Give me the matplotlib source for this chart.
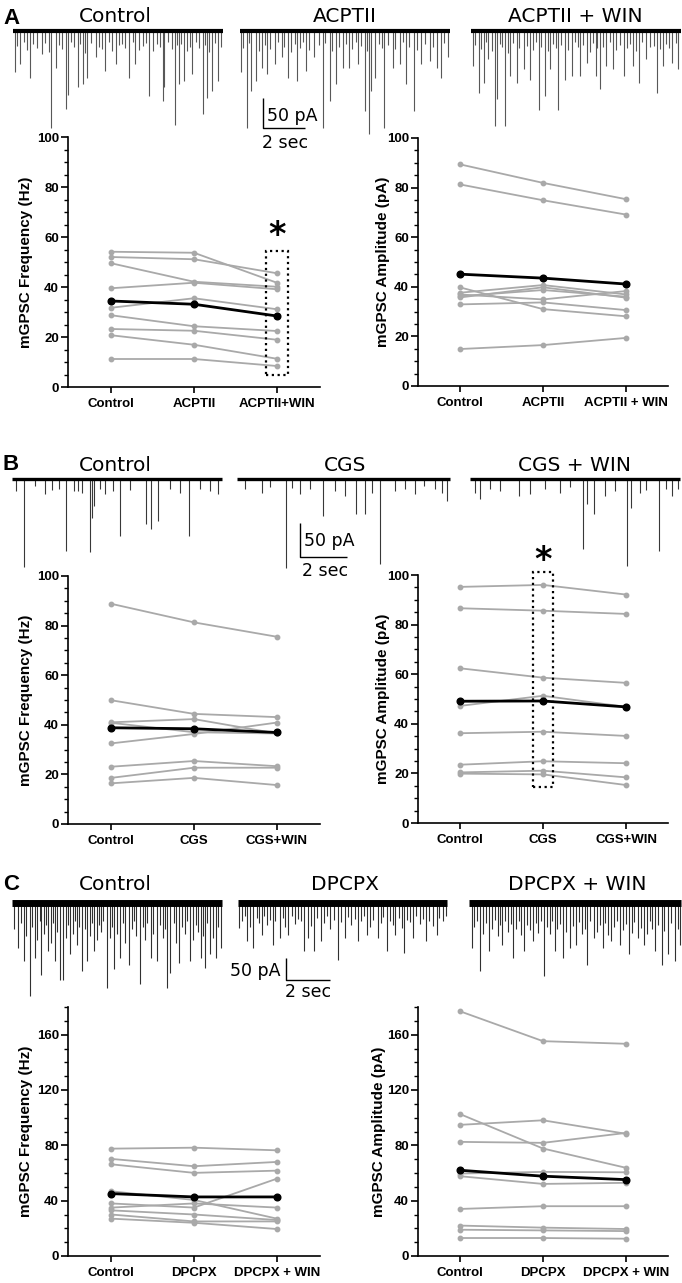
import matplotlib
matplotlib.use("Agg")
import matplotlib.pyplot as plt
from matplotlib.ticker import MultipleLocator
from matplotlib.patches import Rectangle

plt.rcParams['font.family'] = ['Liberation Sans', 'DejaVu Sans']

# ----------------------------- DATA -----------------------------
# Panel A: ACPTII
a_labels_freq = ['Control', 'ACPTII', 'ACPTII+WIN']
a_labels_amp = ['Control', 'ACPTII', 'ACPTII + WIN']
a_freq_ctrl = [54.1, 52.0, 49.5, 39.5, 31.7, 28.7, 23.2, 20.7, 11.2]
a_freq_drug = [53.7, 51.1, 42.1, 41.7, 35.5, 24.3, 22.5, 16.9, 11.2]
a_freq_win = [41.7, 45.5, 40.1, 39.1, 31.1, 22.4, 18.9, 11.3, 8.4]
a_freq_mean = [34.4, 33.1, 28.4]
a_amp_ctrl = [89.4, 81.3, 39.8, 37.6, 36.9, 35.7, 36.2, 32.9, 14.9]
a_amp_drug = [81.9, 74.9, 31.0, 40.7, 34.9, 39.8, 38.7, 33.7, 16.5]
a_amp_win = [75.3, 69.1, 28.1, 36.9, 38.3, 35.6, 36.0, 30.6, 19.4]
a_amp_mean = [45.1, 43.5, 41.1]

# Panel B: CGS
b_labels_freq = ['Control', 'CGS', 'CGS+WIN']
b_labels_amp = ['Control', 'CGS', 'CGS+WIN']
b_freq_ctrl = [88.8, 49.9, 41.0, 40.8, 32.5, 23.1, 18.6, 16.4]
b_freq_drug = [81.3, 44.4, 42.3, 37.0, 36.3, 25.4, 22.7, 18.6]
b_freq_win = [75.5, 43.1, 36.5, 36.5, 40.9, 23.3, 22.7, 15.7]
b_freq_mean = [38.8, 38.4, 36.9]
b_amp_ctrl = [95.2, 86.6, 62.4, 47.2, 36.2, 23.5, 20.4, 19.9]
b_amp_drug = [96.0, 85.6, 58.6, 51.3, 36.8, 24.9, 21.1, 19.6]
b_amp_win = [92.1, 84.3, 56.5, 46.8, 35.1, 24.1, 18.4, 15.3]
b_amp_mean = [49.1, 49.2, 46.8]

# Panel C: DPCPX
c_labels_freq = ['Control', 'DPCPX', 'DPCPX + WIN']
c_labels_amp = ['Control', 'DPCPX', 'DPCPX + WIN']
c_freq_ctrl = [77.6, 70.2, 66.3, 46.8, 38.0, 35.0, 33.0, 30.0, 27.0]
c_freq_drug = [78.3, 64.9, 60.1, 40.5, 35.0, 38.0, 30.0, 25.0, 24.0]
c_freq_win = [76.4, 68.0, 61.7, 27.0, 55.9, 35.0, 26.0, 25.0, 19.5]
c_freq_mean = [45.1, 42.7, 42.7]
c_amp_ctrl = [177.0, 102.7, 94.8, 82.5, 59.6, 57.7, 34.0, 22.0, 19.0, 13.0]
c_amp_drug = [155.3, 77.7, 98.1, 81.8, 60.8, 52.1, 36.0, 20.5, 18.5, 13.0]
c_amp_win = [153.4, 63.7, 88.3, 89.0, 60.5, 52.9, 36.0, 19.5, 18.0, 12.5]
c_amp_mean = [62.0, 57.7, 55.2]

# Example traces: event times (s) and amplitudes (pA)
a_ctrl_t = [0.11, 0.32, 0.79, 1.36, 1.83, 2.04, 2.50, 2.60, 3.08, 3.33, 3.54, 3.95, 4.37, 4.89, 5.52, 5.83, 6.49, 7.12, 7.20, 7.70, 7.91, 8.16, 8.53, 9.05, 9.26, 9.47, 9.78,
            0.2, 0.5, 0.65, 0.95, 1.15, 1.5, 1.7, 2.2, 2.35, 2.75, 2.9, 3.2, 3.45, 3.7, 4.1, 4.25, 4.55, 4.7, 5.05, 5.2, 5.35, 5.7, 6.0, 6.2, 6.35, 6.65, 6.85, 7.0, 7.4, 7.55, 7.8, 8.0, 8.3, 8.45, 8.7, 8.85, 9.15, 9.35, 9.6, 9.9]
a_ctrl_amp = [69, 55, 78, 38, 161, 61, 130, 106, 94, 89, 78, 44, 67, 55, 78, 55, 108, 117, 94, 156, 89, 83, 72, 139, 111, 100, 83,
              25, 18, 32, 22, 28, 20, 35, 24, 30, 18, 27, 22, 36, 20, 26, 30, 19, 33, 24, 21, 28, 18, 31, 25, 20, 34, 22, 27, 19, 30, 24, 21, 33, 26, 18, 29, 23, 35, 20, 26]
a_drug_t = [0.05, 0.32, 0.53, 0.74, 1.05, 1.30, 1.67, 1.98, 2.30, 2.71, 3.13, 3.54, 3.96, 4.27, 4.58, 4.90, 5.21, 5.62, 5.93, 6.14, 6.25, 6.45, 6.87, 7.29, 7.60, 7.91, 8.29, 8.64, 9.05, 9.37, 9.57, 9.89,
            0.15, 0.42, 0.9, 1.18, 1.45, 1.8, 2.1, 2.45, 2.6, 2.85, 3.0, 3.3, 3.75, 4.05, 4.4, 4.7, 5.05, 5.35, 5.5, 5.75, 6.05, 6.6, 6.75, 7.05, 7.4, 7.75, 8.05, 8.45, 8.8, 9.2, 9.7]
a_drug_amp = [69, 161, 100, 83, 61, 72, 55, 44, 78, 83, 67, 44, 161, 117, 89, 61, 61, 55, 133, 172, 100, 78, 161, 61, 55, 89, 133, 55, 50, 61, 78, 44,
              28, 20, 33, 24, 30, 19, 26, 35, 22, 28, 18, 31, 24, 20, 34, 27, 22, 30, 19, 25, 33, 21, 28, 24, 30, 18, 26, 32, 22, 27, 20]
a_win_t = [0.10, 0.38, 0.62, 0.83, 1.14, 1.25, 1.62, 1.87, 2.18, 2.50, 2.81, 3.22, 3.54, 3.74, 4.16, 4.47, 4.79, 5.20, 5.51, 5.93, 6.13, 6.45, 6.76, 7.28, 7.70, 8.01, 8.32, 8.84, 9.15, 9.57, 9.88,
           0.2, 0.5, 0.72, 1.0, 1.38, 1.5, 1.75, 2.0, 2.3, 2.65, 2.95, 3.1, 3.35, 3.65, 3.9, 4.05, 4.3, 4.6, 4.95, 5.08, 5.35, 5.65, 5.8, 6.02, 6.3, 6.6, 6.9, 7.1, 7.45, 7.55, 7.85, 8.15, 8.5, 8.7, 9.0, 9.3, 9.45, 9.75]
a_win_amp = [58, 103, 86, 47, 158, 114, 158, 75, 86, 64, 81, 131, 108, 64, 131, 81, 75, 75, 53, 75, 97, 58, 64, 75, 58, 86, 47, 103, 58, 53, 64,
             24, 30, 19, 33, 22, 27, 36, 20, 28, 25, 31, 18, 26, 34, 21, 29, 24, 32, 19, 27, 23, 35, 20, 28, 26, 18, 31, 24, 29, 21, 33, 19, 27, 25, 30, 22, 28, 20]

b_ctrl_t = [0.17, 0.51, 0.98, 1.40, 1.70, 2.00, 2.28, 2.64, 2.81, 2.98, 3.30, 3.39, 3.49, 3.74, 3.96, 4.29, 4.60, 5.02, 5.70, 5.90, 6.21, 6.72, 7.15, 7.53, 8.00, 8.43, 8.77]
b_ctrl_amp = [18, 129, 10, 22, 16, 14, 106, 18, 18, 20, 107, 57, 40, 15, 22, 18, 84, 16, 66, 74, 62, 15, 20, 84, 14, 18, 22]
b_drug_t = [0.34, 1.06, 1.40, 2.09, 2.33, 2.68, 3.11, 3.66, 4.17, 4.60, 5.06, 5.43, 5.74, 6.09, 6.72, 7.15, 7.57, 7.94, 8.43, 8.72, 8.95]
b_drug_amp = [15, 20, 12, 131, 13, 22, 15, 54, 18, 25, 52, 52, 20, 125, 18, 15, 22, 10, 15, 20, 32]
b_win_t = [0.21, 0.44, 0.85, 1.28, 2.08, 2.55, 3.19, 3.83, 4.26, 4.81, 4.99, 5.28, 5.74, 6.17, 6.68, 6.85, 7.23, 7.50, 8.06, 8.34, 8.60, 8.85]
b_win_amp = [20, 30, 15, 18, 25, 22, 15, 20, 12, 103, 37, 52, 25, 18, 128, 42, 20, 16, 106, 15, 25, 15]

c_ctrl_t = [0.25, 0.55, 0.80, 1.04, 1.34, 1.64, 1.94, 2.19, 2.33, 2.63, 3.17, 3.42, 3.72, 4.32, 4.65, 4.91, 5.31, 5.81, 6.30, 6.60, 7.06, 7.20, 7.59, 8.09, 8.59, 8.78, 8.98, 9.28, 9.48,
            0.1, 0.4, 0.65, 0.92, 1.15, 1.25, 1.45, 1.55, 1.75, 1.85, 2.05, 2.45, 2.55, 2.75, 2.85, 2.95, 3.05, 3.3, 3.55, 3.62, 3.85, 3.95, 4.05, 4.15, 4.45, 4.55, 4.78, 5.05, 5.15, 5.45, 5.55, 5.65, 5.95, 6.05, 6.15, 6.42, 6.72, 6.85, 6.95, 7.35, 7.45, 7.72, 7.85, 7.95, 8.22, 8.35, 8.47, 8.68, 8.88, 9.12, 9.38]
c_ctrl_amp = [102, 132, 212, 125, 163, 110, 132, 174, 174, 117, 155, 132, 110, 193, 151, 125, 140, 185, 125, 132, 193, 159, 136, 132, 125, 148, 117, 125, 102,
              60, 45, 75, 55, 85, 40, 70, 50, 90, 45, 65, 80, 50, 70, 40, 95, 55, 60, 75, 45, 85, 50, 65, 40, 80, 55, 70, 45, 90, 60, 40, 75, 55, 85, 45, 70, 50, 80, 60, 45, 90, 55, 70, 40, 85, 50, 65, 75, 45, 80, 55]
c_drug_t = [0.06, 0.40, 0.70, 1.09, 1.59, 1.89, 2.28, 2.98, 3.18, 3.47, 3.77, 4.56, 4.86, 5.46, 5.85, 6.35, 6.75, 7.15, 7.54, 7.94, 8.54, 9.03, 9.33,
            0.2, 0.3, 0.55, 0.85, 0.95, 1.2, 1.3, 1.45, 1.7, 2.05, 2.15, 2.45, 2.6, 2.72, 2.85, 3.3, 3.6, 3.9, 4.05, 4.2, 4.35, 4.7, 5.0, 5.15, 5.3, 5.6, 5.72, 6.0, 6.15, 6.5, 6.6, 6.9, 7.05, 7.3, 7.45, 7.7, 7.82, 8.1, 8.25, 8.4, 8.7, 8.85, 9.15, 9.45]
c_drug_amp = [57, 87, 102, 72, 95, 79, 72, 110, 79, 110, 87, 129, 79, 87, 72, 79, 110, 72, 114, 79, 87, 72, 42,
              40, 30, 55, 35, 45, 30, 50, 38, 42, 35, 55, 30, 48, 36, 40, 52, 34, 46, 30, 58, 38, 44, 32, 50, 36, 42, 30, 54, 38, 46, 32, 40, 50, 34, 56, 38, 44, 30, 48, 36, 42, 52, 34, 30]
c_win_t = [0.12, 0.51, 0.91, 1.51, 2.00, 2.50, 2.90, 3.40, 3.89, 4.29, 4.59, 4.88, 5.38, 5.68, 6.07, 6.47, 6.87, 7.26, 7.66, 7.96, 8.45, 8.75, 9.05, 9.35, 9.60,
           0.25, 0.38, 0.65, 0.78, 1.05, 1.18, 1.3, 1.4, 1.65, 1.78, 1.9, 2.15, 2.28, 2.38, 2.62, 2.75, 3.05, 3.15, 3.28, 3.55, 3.68, 3.78, 4.02, 4.15, 4.42, 4.72, 5.02, 5.12, 5.25, 5.5, 5.82, 5.95, 6.2, 6.32, 6.6, 6.72, 7.0, 7.12, 7.4, 7.52, 7.8, 8.1, 8.22, 8.33, 8.6, 8.88, 9.18, 9.48]
c_win_amp = [102, 155, 110, 95, 125, 110, 87, 167, 110, 125, 102, 95, 140, 79, 102, 87, 95, 117, 79, 95, 110, 140, 117, 132, 95,
             55, 40, 70, 45, 60, 38, 75, 50, 42, 65, 48, 58, 40, 72, 50, 62, 45, 68, 40, 55, 70, 42, 60, 48, 65, 52, 44, 70, 58, 40, 66, 50, 46, 72, 54, 40, 62, 48, 68, 44, 56, 70, 42, 60, 50, 64, 46, 58]

# ----------------------------- FIGURE -----------------------------
W, H = 682, 1283
fig = plt.figure(figsize=(W / 100, H / 100), dpi=100)


def ax_px(x0, y0, x1, y1):
    return fig.add_axes([x0 / W, 1 - y1 / H, (x1 - x0) / W, (y1 - y0) / H])


def ftext(x, y, s, **kw):
    fig.text(x / W, 1 - y / H, s, **kw)


GRAY = '#a9a9a9'


def pair_plot(ax, ctrl, drug, win, mean, labels, ymax, major, minor, ylabel, xpad, ylab_x):
    xs = [0, 1, 2]
    for v in zip(ctrl, drug, win):
        ax.plot(xs, v, color=GRAY, lw=1.3, marker='o', ms=3.2, mfc=GRAY, mec=GRAY,
                zorder=2, clip_on=False)
    ax.plot(xs, mean, color='black', lw=2.0, marker='o', ms=4.8, zorder=3, clip_on=False)
    ax.set_xlim(-xpad, 2 + xpad)
    ax.set_ylim(0, ymax)
    for s in ['top', 'right']:
        ax.spines[s].set_visible(False)
    for s in ['left', 'bottom']:
        ax.spines[s].set_linewidth(1.2)
    ax.set_xticks(xs)
    ax.set_xticklabels(labels, fontsize=9.5, fontweight='bold')
    ax.yaxis.set_major_locator(MultipleLocator(major))
    ax.yaxis.set_minor_locator(MultipleLocator(minor))
    ax.tick_params(axis='y', which='major', length=5, width=1.2, labelsize=9.5, pad=1.5)
    ax.tick_params(axis='y', which='minor', length=3, width=1.0)
    ax.tick_params(axis='x', length=4, width=1.2, pad=4)
    for lab in ax.get_yticklabels():
        lab.set_fontweight('bold')
    ax.set_ylabel(ylabel, fontsize=11, fontweight='bold')
    ax.yaxis.set_label_coords(ylab_x, 0.5)
    ax.patch.set_alpha(0)


def trace_row(top, bottom, base, pxps, pa_per_px, traces, band, spike_col):
    ax = ax_px(0, top, W, bottom)
    ax.set_xlim(0, W / pxps)
    ax.set_ylim(-(bottom - base) * pa_per_px, (base - top) * pa_per_px)
    ax.axis('off')
    for x0, dur, t, amp in traces:
        off = x0 / pxps
        ax.vlines([off + ti for ti in t], [-a for a in amp], 0, colors=spike_col, lw=0.8)
        ax.plot([off, off + dur], [0, 0], color='black', lw=band, solid_capstyle='butt')
    return ax


def scale_bar(ax, bx, by, base, pxps, pa_per_px):
    sx = bx / pxps
    sy = (base - by) * pa_per_px
    ax.plot([sx, sx, sx + 2.0], [sy + 50, sy, sy], color='black', lw=1.0, solid_capstyle='butt')


TFONT = dict(family='DejaVu Sans', fontsize=14.5, ha='center', va='center')
SFONT = dict(family='DejaVu Sans', fontsize=12.5, va='center')
LFONT = dict(fontsize=16, fontweight='bold', va='center', ha='left')

# ---- Row A traces ----
axA = trace_row(0, 150, 31, 21.0, 50 / 30,
                [(13, 10.0, a_ctrl_t, a_ctrl_amp), (240, 10.0, a_drug_t, a_drug_amp),
                 (471, 10.0, a_win_t, a_win_amp)], 3.0, '#585858')
scale_bar(axA, 263, 128, 31, 21.0, 50 / 30)
ftext(3, 18, 'A', **LFONT)
ftext(115, 17, 'Control', **TFONT)
ftext(345, 17, 'ACPTII', **TFONT)
ftext(575, 17, 'ACPTII + WIN', **TFONT)
ftext(267, 116, '50 pA', ha='left', **SFONT)
ftext(285, 143, '2 sec', ha='center', **SFONT)

# ---- Row B traces ----
axB = trace_row(450, 600, 479, 23.5, 50 / 34,
                [(12, 8.94, b_ctrl_t, b_ctrl_amp), (237, 9.06, b_drug_t, b_drug_amp),
                 (470, 8.94, b_win_t, b_win_amp)], 2.4, '#383838')
scale_bar(axB, 300, 557, 479, 23.5, 50 / 34)
ftext(3, 465, 'B', **LFONT)
ftext(115, 466, 'Control', **TFONT)
ftext(345, 466, 'CGS', **TFONT)
ftext(575, 466, 'CGS + WIN', **TFONT)
ftext(304, 541, '50 pA', ha='left', **SFONT)
ftext(325, 571, '2 sec', ha='center', **SFONT)

# ---- Row C traces ----
axC = trace_row(870, 1010, 903, 22.0, 50 / 22,
                [(12, 9.55, c_ctrl_t, c_ctrl_amp), (238, 9.5, c_drug_t, c_drug_amp),
                 (469, 9.64, c_win_t, c_win_amp)], 5.0, '#303030')
scale_bar(axC, 286, 980, 903, 22.0, 50 / 22)
ftext(3, 884, 'C', **LFONT)
ftext(115, 885, 'Control', **TFONT)
ftext(345, 885, 'DPCPX', **TFONT)
ftext(577, 885, 'DPCPX + WIN', **TFONT)
ftext(281, 971, '50 pA', ha='right', **SFONT)
ftext(308, 992, '2 sec', ha='center', **SFONT)

# ---- Paired plots ----
ax1 = ax_px(68, 137, 320, 387)
pair_plot(ax1, a_freq_ctrl, a_freq_drug, a_freq_win, a_freq_mean, a_labels_freq,
          100, 20, 5, 'mGPSC Frequency (Hz)', 0.52, -0.139)
ax1.add_patch(Rectangle((1.874, 4.8), 0.26, 49.6, fill=False, ls=(0, (1, 1.6)), lw=1.6,
                        ec='black', clip_on=False, zorder=4))
ax1.text(2.0, 60.5, '*', ha='center', va='center', fontsize=24, fontweight='bold',
         family='DejaVu Sans')

ax2 = ax_px(418, 138, 668, 386)
pair_plot(ax2, a_amp_ctrl, a_amp_drug, a_amp_win, a_amp_mean, a_labels_amp,
          100, 20, 5, 'mGPSC Amplitude (pA)', 0.5, -0.112)

ax3 = ax_px(68, 576, 320, 824)
pair_plot(ax3, b_freq_ctrl, b_freq_drug, b_freq_win, b_freq_mean, b_labels_freq,
          100, 20, 5, 'mGPSC Frequency (Hz)', 0.52, -0.139)

ax4 = ax_px(418, 575, 668, 823)
pair_plot(ax4, b_amp_ctrl, b_amp_drug, b_amp_win, b_amp_mean, b_labels_amp,
          100, 20, 5, 'mGPSC Amplitude (pA)', 0.5, -0.112)
ax4.add_patch(Rectangle((0.884, 14.6), 0.24, 86.5, fill=False, ls=(0, (1, 1.6)), lw=1.6,
                        ec='black', clip_on=False, zorder=4))
ax4.text(1.0, 106.0, '*', ha='center', va='center', fontsize=24, fontweight='bold',
         family='DejaVu Sans', clip_on=False)

ax5 = ax_px(68, 1007, 320, 1256)
pair_plot(ax5, c_freq_ctrl, c_freq_drug, c_freq_win, c_freq_mean, c_labels_freq,
          180, 40, 10, 'mGPSC Frequency (Hz)', 0.52, -0.139)

ax6 = ax_px(418, 1007, 668, 1256)
pair_plot(ax6, c_amp_ctrl, c_amp_drug, c_amp_win, c_amp_mean, c_labels_amp,
          180, 40, 10, 'mGPSC Amplitude (pA)', 0.5, -0.13)

fig.savefig('out.png', dpi=100)
